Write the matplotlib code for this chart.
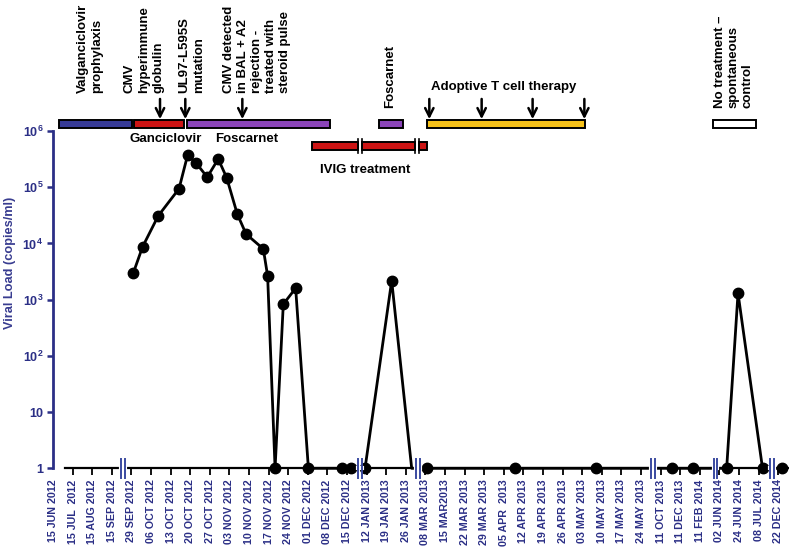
import matplotlib
matplotlib.use('Agg')
import matplotlib.pyplot as plt
import matplotlib.transforms as mtransforms
from matplotlib.patches import Rectangle

plt.rcParams['font.family'] = ['Liberation Sans', 'DejaVu Sans']
plt.rcParams['font.weight'] = 'bold'
plt.rcParams['axes.labelweight'] = 'bold'
plt.rcParams['mathtext.fontset'] = 'custom'
plt.rcParams['mathtext.rm'] = 'Liberation Sans:bold'
plt.rcParams['mathtext.default'] = 'rm'

# Datumi na osi x (enakomerni razmiki, os je prekinjena)
tick_labels = ['15 JUN 2012', '15 JUL  2012', '15 AUG 2012', '15 SEP 2012', '29 SEP 2012',
               '06 OCT 2012', '13 OCT 2012', '20 OCT 2012', '27 OCT 2012', '03 NOV 2012',
               '10 NOV 2012', '17 NOV 2012', '24 NOV 2012', '01 DEC 2012', '08 DEC 2012',
               '15 DEC 2012', '12 JAN 2013', '19 JAN 2013', '26 JAN 2013', '08 MAR 2013',
               '15 MAR2013', '22 MAR 2013', '29 MAR 2013', '05 APR  2013', '12 APR 2013',
               '19 APR 2013', '26 APR 2013', '03 MAY 2013', '10 MAY 2013', '17 MAY 2013',
               '24 MAY 2013', '11 OCT 2013', '11 DEC 2013', '11 FEB 2014', '02 JUN 2014',
               '24 JUN 2014', '08 JUL 2014', '22 DEC 2014']

# Meritve virusnega bremena (polozaj v enotah oznak na osi x)
x_pos = [4.10, 4.57, 5.37, 6.43, 6.87, 7.30, 7.87, 8.43, 8.86, 9.40, 9.85, 10.73, 10.95,
         11.33, 11.75, 12.38, 13.03, 14.73, 15.19, 15.92, 17.28, 18.30, 19.10, 23.57,
         27.69, 31.57, 32.67, 34.37, 34.95, 36.20, 37.18]
viral = [3000, 8700, 31000, 94000, 375000, 270000, 151000, 318000, 148000, 33500, 14700,
         8000, 2650, 1, 830, 1600, 1, 1, 1, 1, 2170, 1, 1, 1, 1, 1, 1, 1, 1300, 1, 1]
no_marker = [21]

# Prekinitve osi
breaks = [3.57, 15.66, 18.6, 30.6, 33.8, 36.7]

# Terapije (zacetek, konec, barva)
top_bars = [(0.32, 4.05, '#363a96'), (4.15, 6.68, '#cc1414'), (6.82, 14.13, '#8a44b8'),
            (16.65, 17.84, '#8a44b8'), (19.07, 27.14, '#f7c21a'), (33.66, 35.85, 'white')]
ivig_parts = [(13.23, 15.56), (15.76, 18.48), (18.68, 19.07)]
arrows_x = [5.46, 6.75, 9.66, 19.2, 21.87, 24.47, 27.11]

navy = '#2b2f86'

fig = plt.figure(figsize=(7.89, 5.49), dpi=100)
ax = fig.add_axes([53 / 789, 1 - 468.3 / 549, 735 / 789, 337.3 / 549])

keep = [k for k in range(len(x_pos)) if k not in no_marker]
ax.plot(x_pos, viral, color='black', lw=2, marker='o', markersize=7.5,
        markevery=keep, clip_on=False, zorder=4)

ax.set_yscale('log')
ax.set_ylim(1, 1e6)
ax.set_xlim(0, 37.5)
ax.set_yticks([1, 10, 100, 1e3, 1e4, 1e5, 1e6])
ax.set_yticklabels(['1', '10', '10$^{2}$', '10$^{3}$', '10$^{4}$', '10$^{5}$', '10$^{6}$'])
ax.minorticks_off()
ax.set_xticks(range(len(tick_labels)))
ax.set_xticklabels(tick_labels, rotation=90, fontsize=7.7, color=navy)
ax.xaxis.get_major_ticks()[0].tick1line.set_visible(False)
for lab in ax.get_yticklabels():
    lab.set_color(navy)
    lab.set_fontsize(9)

ax.spines['top'].set_visible(False)
ax.spines['right'].set_visible(False)
ax.spines['left'].set_color(navy)
ax.spines['left'].set_linewidth(2)
ax.spines['bottom'].set_linewidth(1.6)
ax.spines['bottom'].set_bounds(0.6, 37.5)
ax.tick_params(axis='x', direction='out', length=5, width=1.3, color='black', pad=3)
ax.tick_params(axis='y', direction='out', length=4, width=1.8, color=navy, pad=3)

ax.set_ylabel('Viral Load (copies/ml)', fontsize=9.2, color='#383c90', va='center',
              fontweight='bold')
ax.yaxis.set_label_coords(-0.058, 0.61)

trans = mtransforms.blended_transform_factory(ax.transData, ax.transAxes)

# Prekinitve osi x
for b in breaks:
    ax.plot([b - 0.1, b + 0.1], [0, 0], color='white', lw=3, transform=trans,
            clip_on=False, zorder=5)
    for dx in (-0.1, 0.1):
        ax.plot([b + dx, b + dx], [-0.028, 0.028], color='#3a4aa0', lw=1.4,
                transform=trans, clip_on=False, zorder=6)

# Pasovi terapij
for start, end, col in top_bars:
    ax.add_patch(Rectangle((start, 1.0098), end - start, 0.0228, facecolor=col,
                           edgecolor='black', lw=1.4, transform=trans, clip_on=False))
for start, end in ivig_parts:
    ax.add_patch(Rectangle((start, 0.944), end - start, 0.022, facecolor='#cc1414',
                           edgecolor='black', lw=1.4, transform=trans, clip_on=False))
for b in (15.66, 18.58):
    for dx in (-0.1, 0.1):
        ax.plot([b + dx, b + dx], [0.935, 0.975], color='black', lw=1.2,
                transform=trans, clip_on=False)

for xa in arrows_x:
    ax.annotate('', xy=(xa, 1.035), xytext=(xa, 1.095), xycoords=trans, textcoords=trans,
                arrowprops=dict(arrowstyle='->', lw=1.8, color='black',
                                mutation_scale=15, shrinkA=0, shrinkB=0))

# Napisi
fs = 9.5
ls = 1.32
ax.text(1.89, 1.113, 'Valganciclovir\nprophylaxis', rotation=90, ha='center', va='bottom',
        multialignment='left', fontsize=fs, transform=trans, linespacing=ls)
ax.text(4.64, 1.113, 'CMV\nhyperimmune\nglobulin', rotation=90, ha='center', va='bottom',
        multialignment='left', fontsize=fs, transform=trans, linespacing=ls)
ax.text(7.09, 1.113, 'UL97-L595S\nmutation', rotation=90, ha='center', va='bottom',
        multialignment='left', fontsize=fs, transform=trans, linespacing=ls)
ax.text(10.41, 1.113, 'CMV detected\nin BAL + A2\nrejection -\ntreated with\nsteroid pulse',
        rotation=90, ha='center', va='bottom', multialignment='left', fontsize=fs,
        transform=trans, linespacing=1.22)
ax.text(17.19, 1.068, 'Foscarnet', rotation=90, ha='center', va='bottom',
        fontsize=fs, transform=trans)
ax.text(34.74, 1.068, 'No treatment \u2013\nspontaneous\ncontrol', rotation=90, ha='center',
        va='bottom', multialignment='left', fontsize=fs, transform=trans, linespacing=1.22)
ax.text(23.01, 1.130, 'Adoptive T cell therapy', ha='center', va='center', fontsize=fs,
        transform=trans)
ax.text(5.75, 0.975, 'Ganciclovir', ha='center', va='center', fontsize=fs, transform=trans)
ax.text(9.88, 0.975, 'Foscarnet', ha='center', va='center', fontsize=fs, transform=trans)
ax.text(15.92, 0.884, 'IVIG treatment', ha='center', va='center', fontsize=fs,
        transform=trans)

plt.savefig('out.png', dpi=100)
